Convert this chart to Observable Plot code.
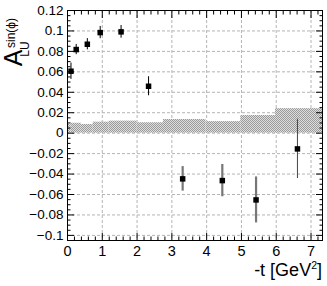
<!DOCTYPE html>
<html><head><meta charset="utf-8">
<script src="https://cdn.jsdelivr.net/npm/d3@7"></script>
<script src="https://cdn.jsdelivr.net/npm/@observablehq/plot@0.6"></script>
<style>body{margin:0;background:#fff}</style>
</head><body><div id="chart"></div>
<script>
// -t values (GeV^2), asymmetry A_LU^sin(phi), statistical errors
const tValues     = [0.10, 0.25, 0.57, 0.94, 1.54, 2.33, 3.31, 4.45, 5.42, 6.61];
const asymValues  = [0.0606, 0.0818, 0.0870, 0.0984, 0.0991, 0.0459, -0.0447, -0.0464, -0.0653, -0.0154];
const asymErrors  = [0.0080, 0.0050, 0.0055, 0.0060, 0.0062, 0.0093, 0.0120, 0.0158, 0.0225, 0.0290];
// systematic band: bin edges and heights
const sysEdges    = [0, 0.10, 0.40, 0.74, 1.20, 2.00, 2.76, 3.98, 4.98, 5.98, 7.33];
const sysHeights  = [0.0085, 0.0097, 0.0085, 0.0108, 0.0118, 0.0102, 0.0134, 0.0113, 0.0173, 0.0240];
// axes
const xTickValues = [0, 1, 2, 3, 4, 5, 6, 7];
const yTickValues = [-0.1, -0.08, -0.06, -0.04, -0.02, 0, 0.02, 0.04, 0.06, 0.08, 0.1, 0.12];
const xLabelText = "-t [GeV";
const yLabelMain = "A", yLabelSup = "sin(\u03d5)", yLabelSub = "LU";

const points = tValues.map((t, i) => ({t, a: asymValues[i], e: asymErrors[i]}));
const sys = sysHeights.map((h, i) => ({x1: sysEdges[i], x2: sysEdges[i + 1], h}));
const xMinor = d3.range(0, 37).map(i => i / 5).filter(v => Math.abs(v - Math.round(v)) > 1e-9);
const yMinor = d3.range(-21, 25).map(i => i / 200).filter(v => Math.abs(v * 50 - Math.round(v * 50)) > 1e-9);
const fmt = d => d === 0 ? "0" : String(+d.toFixed(3)).replace("-", "\u2212");

const font = "'Liberation Sans', Arial, Helvetica, sans-serif";
const tickOpts = (anchor, size) => ({anchor, tickSize: -size, fill: "none", label: null, stroke: "black"});

const chart = Plot.plot({
  width: 327, height: 286,
  marginLeft: 67, marginRight: 5, marginTop: 10, marginBottom: 46,
  style: {fontFamily: font, background: "white", color: "black"},
  x: {domain: [0, 7.33], axis: null},
  y: {domain: [-0.105, 0.12], axis: null},
  marks: [
    Plot.gridX(xTickValues.filter(v => v > 0), {stroke: "#b4b4b4", strokeOpacity: 1, strokeDasharray: "3,2"}),
    Plot.gridY(yTickValues.filter(v => v < 0.12), {stroke: "#b4b4b4", strokeOpacity: 1, strokeDasharray: "3,2"}),
    Plot.rect(sys, {x1: "x1", x2: "x2", y1: () => 0, y2: "h", fill: "url(#hatch)"}),
    // error bars
    Plot.ruleX(points.slice(0, 6), {x: "t", y1: d => d.a - d.e, y2: d => d.a + d.e, stroke: "black", strokeWidth: 1}),
    Plot.ruleX(points.slice(6, 9), {x: "t", y1: d => d.a - d.e, y2: d => d.a + d.e, stroke: "#777", strokeWidth: 2.2}),
    Plot.ruleX(points.slice(9), {x: "t", y1: d => d.a - d.e, y2: d => d.a + d.e, stroke: "#444", strokeWidth: 1}),
    Plot.dot(points, {x: "t", y: "a", symbol: "square", r: 3.1, fill: "black", stroke: "none"}),
    // axis ticks (inward, mirrored)
    Plot.axisX(xTickValues, tickOpts("bottom", 7)),
    Plot.axisX(xMinor, tickOpts("bottom", 3.5)),
    Plot.axisX(xTickValues, tickOpts("top", 7)),
    Plot.axisX(xMinor, tickOpts("top", 3.5)),
    Plot.axisY(yTickValues, tickOpts("left", 7)),
    Plot.axisY(yMinor, tickOpts("left", 3.5)),
    Plot.axisY(yTickValues, tickOpts("right", 7)),
    Plot.axisY(yMinor, tickOpts("right", 3.5)),
    // tick labels
    Plot.axisX(xTickValues, {anchor: "bottom", tickSize: 0, tickPadding: 5, fontSize: 14.5, label: null, tickFormat: fmt}),
    Plot.axisY(yTickValues, {anchor: "left", tickSize: 0, tickPadding: 4, fontSize: 13.5, label: null, tickFormat: fmt}),
    Plot.frame({stroke: "black"})
  ]
});
document.getElementById("chart").appendChild(chart);

const svg = d3.select(chart);
svg.insert("defs", ":first-child").html(
  '<pattern id="hatch" width="2" height="2" patternUnits="userSpaceOnUse">' +
  '<rect width="2" height="2" fill="#dedede"/><rect width="1" height="1" fill="#9a9a9a"/>' +
  '<rect x="1" y="1" width="1" height="1" fill="#9a9a9a"/></pattern>');

// x-axis title
const xt = svg.append("text").attr("x", 322).attr("y", 276).attr("text-anchor", "end")
  .attr("font-family", font).attr("font-size", 18).attr("fill", "black");
xt.append("tspan").text(xLabelText);
xt.append("tspan").attr("font-size", 10.5).attr("dy", -7.5).text("2");
xt.append("tspan").attr("dy", 7.5).text("]");

// y-axis title
const yt = svg.append("text").attr("transform", "translate(21.5,58) rotate(-90)")
  .attr("font-family", font).attr("font-size", 25).attr("fill", "black");
yt.append("tspan").text(yLabelMain);
yt.append("tspan").attr("font-size", 12).attr("x", 25).attr("dy", -7).text(yLabelSup);
yt.append("tspan").attr("font-size", 12).attr("x", 9).attr("dy", 14).text(yLabelSub);
</script>
</body></html>
